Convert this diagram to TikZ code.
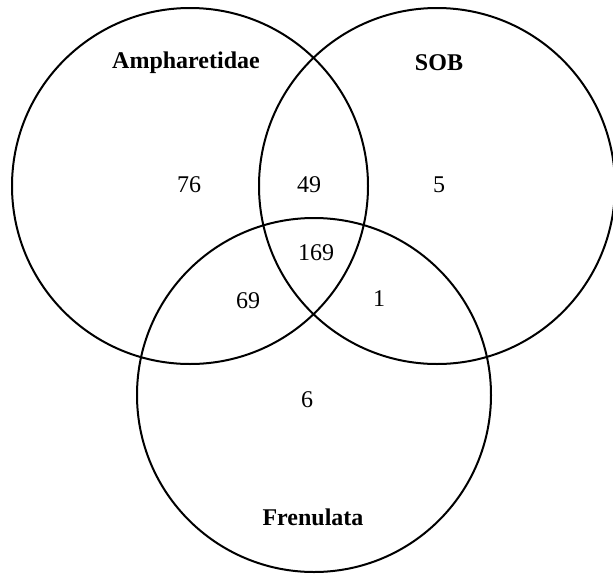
\documentclass[tikz,border=0pt]{standalone}
\usepackage{fontspec}
\setmainfont{Liberation Serif}
\begin{document}
\begin{tikzpicture}[x=1pt,y=-1pt,
  setcircle/.style={circle, draw=black, line width=2pt, minimum size=#1, inner sep=0pt},
  setname/.style={font=\fontsize{24}{28}\selectfont\bfseries, inner sep=0pt},
  count/.style={font=\fontsize{24}{28}\selectfont, inner sep=0pt}]
\useasboundingbox (0,0) rectangle (613,573);
\node[setcircle=356pt] (A) at (190,186) {};
\node[setcircle=356pt] (S) at (437,186) {};
\node[setcircle=354pt] (F) at (314,395) {};
\node[setname] (lA) at (186,63) {Ampharetidae};
\node[setname] (lS) at (439,63) {SOB};
\node[setname] (lF) at (313,517) {Frenulata};
\node[count] (n76) at (189,185) {76};
\node[count] (n49) at (309,185) {49};
\node[count] (n5) at (439,185) {5};
\node[count] (n169) at (316,253) {169};
\node[count] (n69) at (248,301) {69};
\node[count] (n1) at (379,299) {1};
\node[count] (n6) at (307,400) {6};
\end{tikzpicture}
\end{document}
